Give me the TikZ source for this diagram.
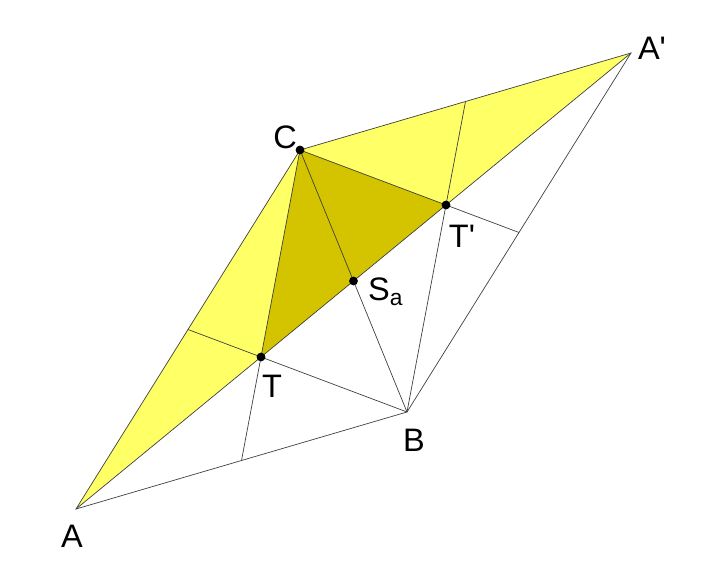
\documentclass[tikz,border=0pt]{standalone}
\usepackage{fontspec}
\setmainfont{Liberation Sans}
\usetikzlibrary{calc}

\begin{document}
\begin{tikzpicture}[x=0.02cm,y=-0.02cm,line width=0.4pt,
  seg/.style={draw=black!75},
  pt/.style={circle,fill=black,inner sep=0pt,minimum size=5pt},
  lbl/.style={font=\fontsize{18.5}{20}\selectfont,inner sep=1pt}]
\useasboundingbox (0,0) rectangle (728,568);
\coordinate (A) at (76,509);
\coordinate (B) at (407,412);
\coordinate (C) at (300,150);
\coordinate (Ad) at ($(B)+(C)-(A)$);
\coordinate (T) at ($1/3*(A)+1/3*(B)+1/3*(C)$);
\coordinate (Td) at ($1/3*(Ad)+1/3*(B)+1/3*(C)$);
\coordinate (Sa) at ($(B)!0.5!(C)$);
\coordinate (Mab) at ($(A)!0.5!(B)$);
\coordinate (Mac) at ($(A)!0.5!(C)$);
\coordinate (Mdb) at ($(Ad)!0.5!(B)$);
\coordinate (Mdc) at ($(Ad)!0.5!(C)$);

\fill[fill={rgb,255:red,255;green,255;blue,102}] (A) -- (C) -- (Ad) -- cycle;
\fill[fill={rgb,255:red,212;green,196;blue,0}] (C) -- (T) -- (Td) -- cycle;

\draw[seg] (A) -- (B) -- (Ad) -- (C) -- cycle;
\draw[seg] (A) -- (Ad);
\draw[seg] (B) -- (C);
\draw[seg] (C) -- (Mab);
\draw[seg] (B) -- (Mac);
\draw[seg] (C) -- (Mdb);
\draw[seg] (B) -- (Mdc);

\node[pt] (c) at (C) {};
\node[pt] (t) at (T) {};
\node[pt] (td) at (Td) {};
\node[pt] (sa) at (Sa) {};

\node[lbl] (lA) at (72,536) {A};
\node[lbl] (lB) at (414,440) {B};
\node[lbl] (lC) at (285,137) {C};
\node[lbl] (lAd) at (652,48) {A\textquotesingle};
\node[lbl] (lT) at (272,386) {T};
\node[lbl] (lTd) at (462,236) {T\textquotesingle};
\node[lbl,anchor=west] (lSa) at (366,292) {S\textsubscript{a}};
\end{tikzpicture}
\end{document}
